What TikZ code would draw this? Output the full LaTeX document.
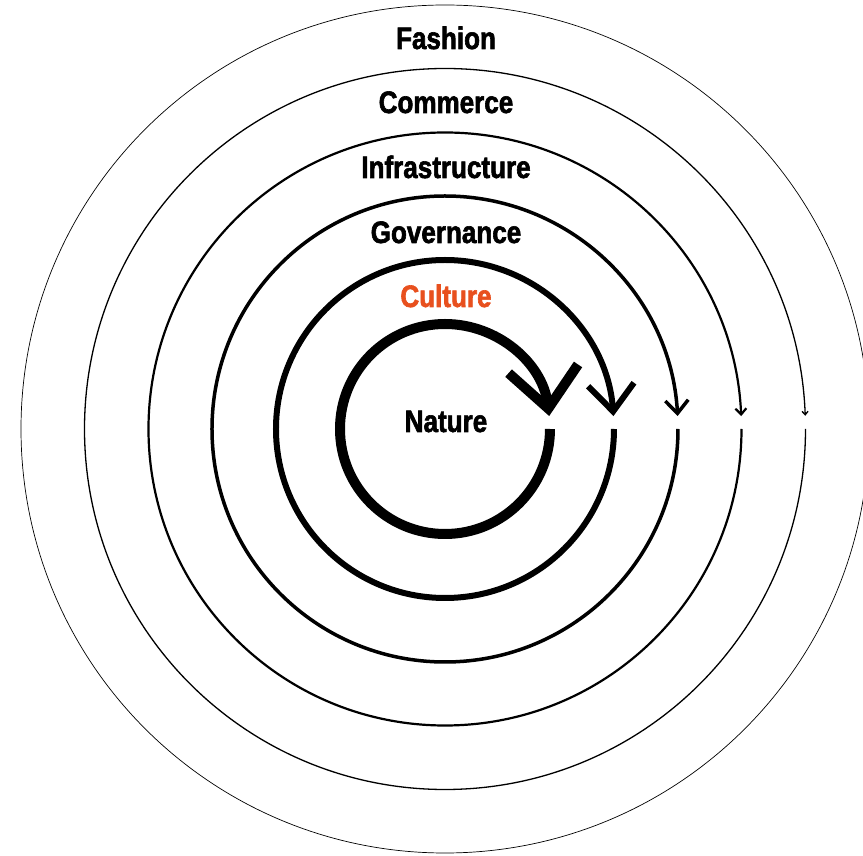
\documentclass[tikz,border=0pt]{standalone}
\usepackage{fontspec}
\usepackage{xcolor}
\usepackage{tikz}
\usetikzlibrary{arrows.meta}
\newfontfamily\ringfont{Liberation Sans}[FakeStretch=0.84, FakeBold=2]
\definecolor{cultureorange}{RGB}{232,80,30}

\begin{document}
\begin{tikzpicture}[x=1pt, y=1pt,
    ring/.style = {draw, line cap=butt},
    word/.style = {font=\ringfont\bfseries\fontsize{31}{31}\selectfont, anchor=base, inner sep=0pt}]
    \useasboundingbox (-445,-427) rectangle (418,429);

    % 圆环
    \draw[ring, line width=10pt, -{Straight Barb[sharp, length=40pt, width=70pt]}] (105,0) arc[start angle=0, end angle=-352.9, radius=105];
    \draw[ring, line width=6pt, -{Straight Barb[sharp, length=27pt, width=46pt]}] (169,0) arc[start angle=0, end angle=-355.6, radius=169];
    \draw[ring, line width=3.5pt, -{Straight Barb[sharp, length=13pt, width=23pt]}] (233,0) arc[start angle=0, end angle=-356.8, radius=233];
    \draw[ring, line width=2.2pt, -{Straight Barb[sharp, length=6pt, width=11pt]}] (296.5,0) arc[start angle=0, end angle=-357.5, radius=296.5];
    \draw[ring, line width=1.3pt, -{Straight Barb[sharp, length=3.5pt, width=6pt]}] (360.5,0) arc[start angle=0, end angle=-357.9, radius=360.5];
    \draw[ring, line width=0.7pt, -{Straight Barb[sharp, length=2.5pt, width=4pt]}] (424,0) arc[start angle=0, end angle=-358.2, radius=424];

    % 文字
    \node[word] (nature) at (1,-3) {Nature};
    \node[word, text=cultureorange] (culture) at (1,122) {Culture};
    \node[word] (governance) at (1,186) {Governance};
    \node[word] (infrastructure) at (1,251) {Infrastructure};
    \node[word] (commerce) at (1,316) {Commerce};
    \node[word] (fashion) at (1,380) {Fashion};
\end{tikzpicture}
\end{document}
